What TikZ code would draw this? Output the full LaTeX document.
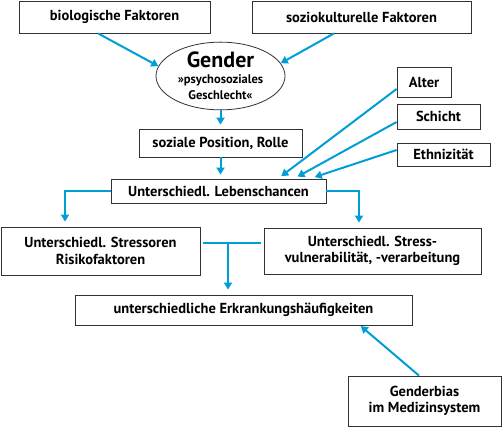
\documentclass[tikz,border=0pt]{standalone}
\usepackage{fontspec}
\setmainfont{PT Sans}
\usetikzlibrary{arrows.meta,shapes.geometric,calc}
\definecolor{arrowblue}{RGB}{0,158,214}
\definecolor{boxgray}{RGB}{50,50,50}
\tikzset{
  box/.style={draw=boxgray,line width=0.8pt,inner sep=0pt,align=center,font=\bfseries\fontsize{14.5}{16.5}\selectfont},
  conn/.style={draw=arrowblue,line width=2pt},
  arr/.style={conn,-{Triangle[width=8pt,length=7pt]}},
}
\begin{document}
\begin{tikzpicture}[x=1pt,y=-1pt]
\useasboundingbox (0,0) rectangle (502,427);
\node[box,minimum width=191pt,minimum height=32pt] (bio) at (114.5,17) {biologische Faktoren};
\node[box,minimum width=219pt,minimum height=32pt] (sozio) at (361.5,17) {soziokulturelle Faktoren};
\node[box,ellipse,minimum width=129pt,minimum height=64pt] (gender) at (220.5,76)
  {{\fontsize{22}{20}\selectfont Gender}\\[-1pt]{\fontsize{12.5}{14}\selectfont »psychosoziales}\\{\fontsize{12.5}{14}\selectfont Geschlecht«}};
\node[box,minimum width=54pt,minimum height=30pt] (alter) at (424,82) {Alter};
\node[box,minimum width=83pt,minimum height=25pt] (schicht) at (438.5,116.5) {Schicht};
\node[box,minimum width=93pt,minimum height=23pt] (ethn) at (443.5,154.5) {Ethnizität};
\node[box,minimum width=163pt,minimum height=28pt] (sozpos) at (220.5,143) {soziale Position, Rolle};
\node[box,minimum width=215pt,minimum height=24pt] (leben) at (218.5,191) {Unterschiedl. Lebenschancen};
\node[box,minimum width=199pt,minimum height=48pt] (stress) at (100.5,251) {Unterschiedl. Stressoren\\Risikofaktoren};
\node[box,minimum width=217pt,minimum height=46pt] (vuln) at (372.5,251) {Unterschiedl. Stress-\\vulnerabilität, -verarbeitung};
\node[box,minimum width=337pt,minimum height=30pt] (erkr) at (243.5,310) {unterschiedliche Erkrankungshäufigkeiten};
\node[box,minimum width=153pt,minimum height=50pt] (bias) at (424.5,401) {Genderbias\\im Medizinsystem};

\draw[arr] (98,0 |- bio.south) -- (gender.171);
\draw[arr] (334,0 |- sozio.south) -- (gender.12);
\draw[arr,shorten >=4pt] (gender.south) -- (gender.south |- sozpos.north);
\draw[arr,shorten >=4pt] (sozpos.south) -- (sozpos.south |- leben.north);
\draw[arr,shorten >=4pt] ($(alter.west)+(0,7)$) -- (278,0 |- leben.north);
\draw[arr,shorten >=4pt] ($(schicht.west)+(0,5.5)$) -- (294,0 |- leben.north);
\draw[arr,shorten >=5pt] ($(ethn.west)+(0,-4.5)$) -- (310,0 |- leben.north);
\draw[arr,shorten >=5pt] (leben.west) -| (65,0 |- stress.north);
\draw[arr,shorten >=5pt] (leben.east) -| (359,0 |- vuln.north);
\coordinate (tj) at (228,243);
\draw[conn] ([xshift=3pt]stress.east |- tj) -- ([xshift=-3pt]vuln.west |- tj);
\draw[arr,shorten >=5pt] (tj) -- (tj |- erkr.north);
\draw[arr,shorten >=1pt] (419,0 |- bias.north) -- (360,0 |- erkr.south);
\end{tikzpicture}
\end{document}
